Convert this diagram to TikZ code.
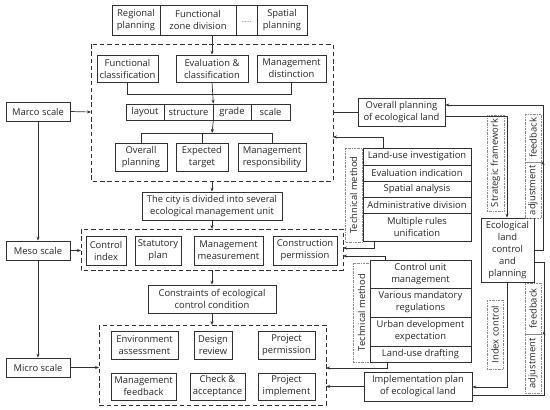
\documentclass[tikz,border=0pt]{standalone}
\usepackage{fontspec}
\setmainfont{Open Sans}
\usetikzlibrary{arrows.meta}
\definecolor{ln}{HTML}{303030}
\definecolor{dl}{HTML}{8A8A8A}
\tikzset{
  box/.style={draw=ln,line width=0.7pt,inner sep=0pt,align=center,text=black!85,
    font=\fontsize{9.4}{12}\selectfont},
  dbox/.style={draw=ln,line width=0.9pt,dash pattern=on 4.5pt off 2.8pt},
  lab/.style={draw=dl,line width=0.5pt,dash pattern=on 2pt off 1pt on 0.5pt off 1pt,inner sep=0pt,
    align=center,text=black!85,font=\fontsize{9.4}{12}\selectfont},
  con/.style={draw=ln,line width=0.7pt},
  arr/.style={con,-{Stealth[length=4pt,width=3pt]}},
}
\newcommand\bx[6][]{\node[box,#1,minimum width={(#4-#2)*1pt},minimum height={(#5-#3)*1pt}] (#6) at ({(#2+#4)/2},{(#3+#5)/2})}
\newcommand\lb[6][]{\node[lab,#1,minimum width={(#5-#3)*1pt},minimum height={(#4-#2)*1pt},rotate=90] (#6) at ({(#2+#4)/2},{(#3+#5)/2})}
\begin{document}
\begin{tikzpicture}[x=1pt,y=-1pt]
\useasboundingbox (0,0) rectangle (550,410);
% top row
\bx{112}{5}{160}{35}{r1}{Regional\\planning};
\bx{160}{5}{236}{35}{r2}{Functional\\zone division};
\bx{236}{5}{257}{35}{r3}{\raisebox{-5pt}{\fontsize{6}{6}\selectfont......}};
\bx{257}{5}{307}{35}{r4}{Spatial\\planning};
% dashed groups
\draw[dbox] (91,44) rectangle (333,181);
\coordinate (D1) at (212,181);
\draw[dbox] (81,229) rectangle (343,270);
\draw[dbox] (99,325) rectangle (326,405);
% group 1
\bx{97}{55}{158}{82}{fc}{Functional\\classification};
\bx{176}{55}{248}{82}{ec}{Evaluation \&\\classification};
\bx{257}{55}{326}{82}{md}{Management\\distinction};
\bx{126}{104}{164}{120}{l1}{layout};
\bx{164}{104}{213}{120}{l2}{structure};
\bx{213}{104}{251}{120}{l3}{grade};
\bx{251}{104}{290}{120}{l4}{scale};
\bx{115}{143}{167}{171}{op}{Overall\\planning};
\bx{176}{143}{228}{171}{et}{Expected\\target};
\bx{238}{143}{306}{171}{mr}{Management\\responsibility};
% middle
\bx{142}{192}{282}{220}{city}{The city is divided into several\\ecological management unit};
\bx{86}{236}{126}{265}{ci}{Control\\index};
\bx{135}{236}{181}{265}{sp}{Statutory\\plan};
\bx{194}{236}{263}{265}{mm}{Management\\measurement};
\bx{273}{236}{337}{265}{cp}{Construction\\permission};
\bx{148}{285}{276}{313}{cons}{Constraints of ecological\\control condition};
% group 3
\bx{111}{331}{178}{359}{ea}{Environment\\assessment};
\bx{194}{331}{232}{359}{dr}{Design\\review};
\bx{258}{331}{315}{359}{pp}{Project\\permission};
\bx{111}{373}{176}{400}{mf}{Management\\feedback};
\bx{190}{373}{245}{400}{ca}{Check \&\\acceptance};
\bx{258}{373}{315}{400}{pim}{Project\\implement};
% scales
\bx{6}{102}{70}{121}{marco}{Marco scale};
\bx{6}{241}{70}{260}{meso}{Meso scale};
\bx{6}{358}{70}{377}{micro}{Micro scale};
% right side
\bx{358}{98}{445}{126}{opl}{Overall planning\\of ecological land};
\lb{345}{148}{362}{242}{tm1}{Technical method};
\bx{363}{148}{471}{165}{s1}{Land-use investigation};
\bx{363}{165}{471}{181}{s2}{Evaluation indication};
\bx{363}{181}{471}{197}{s3}{Spatial analysis};
\bx{363}{197}{471}{213}{s4}{Administrative division};
\bx{363}{213}{471}{241}{s5}{Multiple rules\\unification};
\lb{353}{263}{370}{362}{tm2}{Technical method};
\bx{370}{260}{471}{288}{t1}{Control unit\\management};
\bx{370}{288}{471}{317}{t2}{Various mandatory\\regulations};
\bx{370}{317}{471}{346}{t3}{Urban development\\expectation};
\bx{370}{346}{471}{362}{t4}{Land-use drafting};
\bx{481}{218}{534}{282}{eco}{Ecological\\land\\control\\and\\planning};
\bx{364}{372}{472}{401}{impl}{Implementation plan\\of ecological land};
\lb{487}{115}{504}{211}{sf}{Strategic framework};
\lb{487}{300}{503}{369}{ic}{Index control};
\lb{525}{114}{541}{162}{fb1}{feedback};
\lb{525}{162}{541}{218}{ad1}{adjustment};
\lb{525}{283}{541}{334}{fb2}{feedback};
\lb{525}{334}{541}{393}{ad2}{adjustment};
% connectors
\draw[arr] (r2.south -| ec.north) -- (ec.north);
\draw[con] (fc.south) -- (fc.south |- 0,94) -- (md.south |- 0,94) -- (md.south);
\draw[arr] (ec.south) -- (l2.north east);
\coordinate (br) at (212,133);
\draw[arr] (l2.south east) -- (br);
\draw[con] (op.north |- br) -- (mr.north |- br);
\draw[con] (op.north |- br) -- (op.north);
\draw[con] (et.north |- br) -- (et.north);
\draw[con] (mr.north |- br) -- (mr.north);
\draw[arr] (D1) -- (city.north -| D1);
\draw[arr] (city.south -| D1) -- (212,229);
\draw[arr] (212,270) -- (cons.north -| D1);
\draw[arr] (cons.south -| D1) -- (212,325);
\draw[arr] (marco.east) -- (91,112);
\draw[arr] (marco.south) -- (meso.north);
\draw[arr] (meso.east) -- (81,250.5);
\draw[arr] (meso.south) -- (micro.north);
\draw[arr] (micro.east) -- (99,367.5);
\draw[con] (opl.west) -- (333,112);
\draw[arr] (s1.north -| 383,0) -- (383,137) -- (333,137);
\draw[arr] (s5.south -| 374,0) -- (374,248) -- (343,248);
\draw[arr] (t1.north -| 385,0) -- (385,256) -- (343,256);
\draw[arr] (t4.south -| 387,0) -- (387,368) -- (326,368);
\draw[arr] (impl.west) -- (326,386.5);
\draw[arr] (opl.east |- 0,116) -- (507,116) -- (eco.north -| 507,0);
\draw[arr] (eco.east |- 0,250) -- (543,250) -- (543,161);
\draw[arr] (543,165) -- (543,105) -- (opl.east |- 0,105);
\draw[arr] (eco.south -| 507,0) -- (507,387) -- (impl.east |- 0,387);
\draw[arr] (impl.east |- 0,395) -- (544,395) -- (544,331);
\draw[con] (544,335) -- (544,262) -- (eco.east |- 0,262);
\end{tikzpicture}
\end{document}
